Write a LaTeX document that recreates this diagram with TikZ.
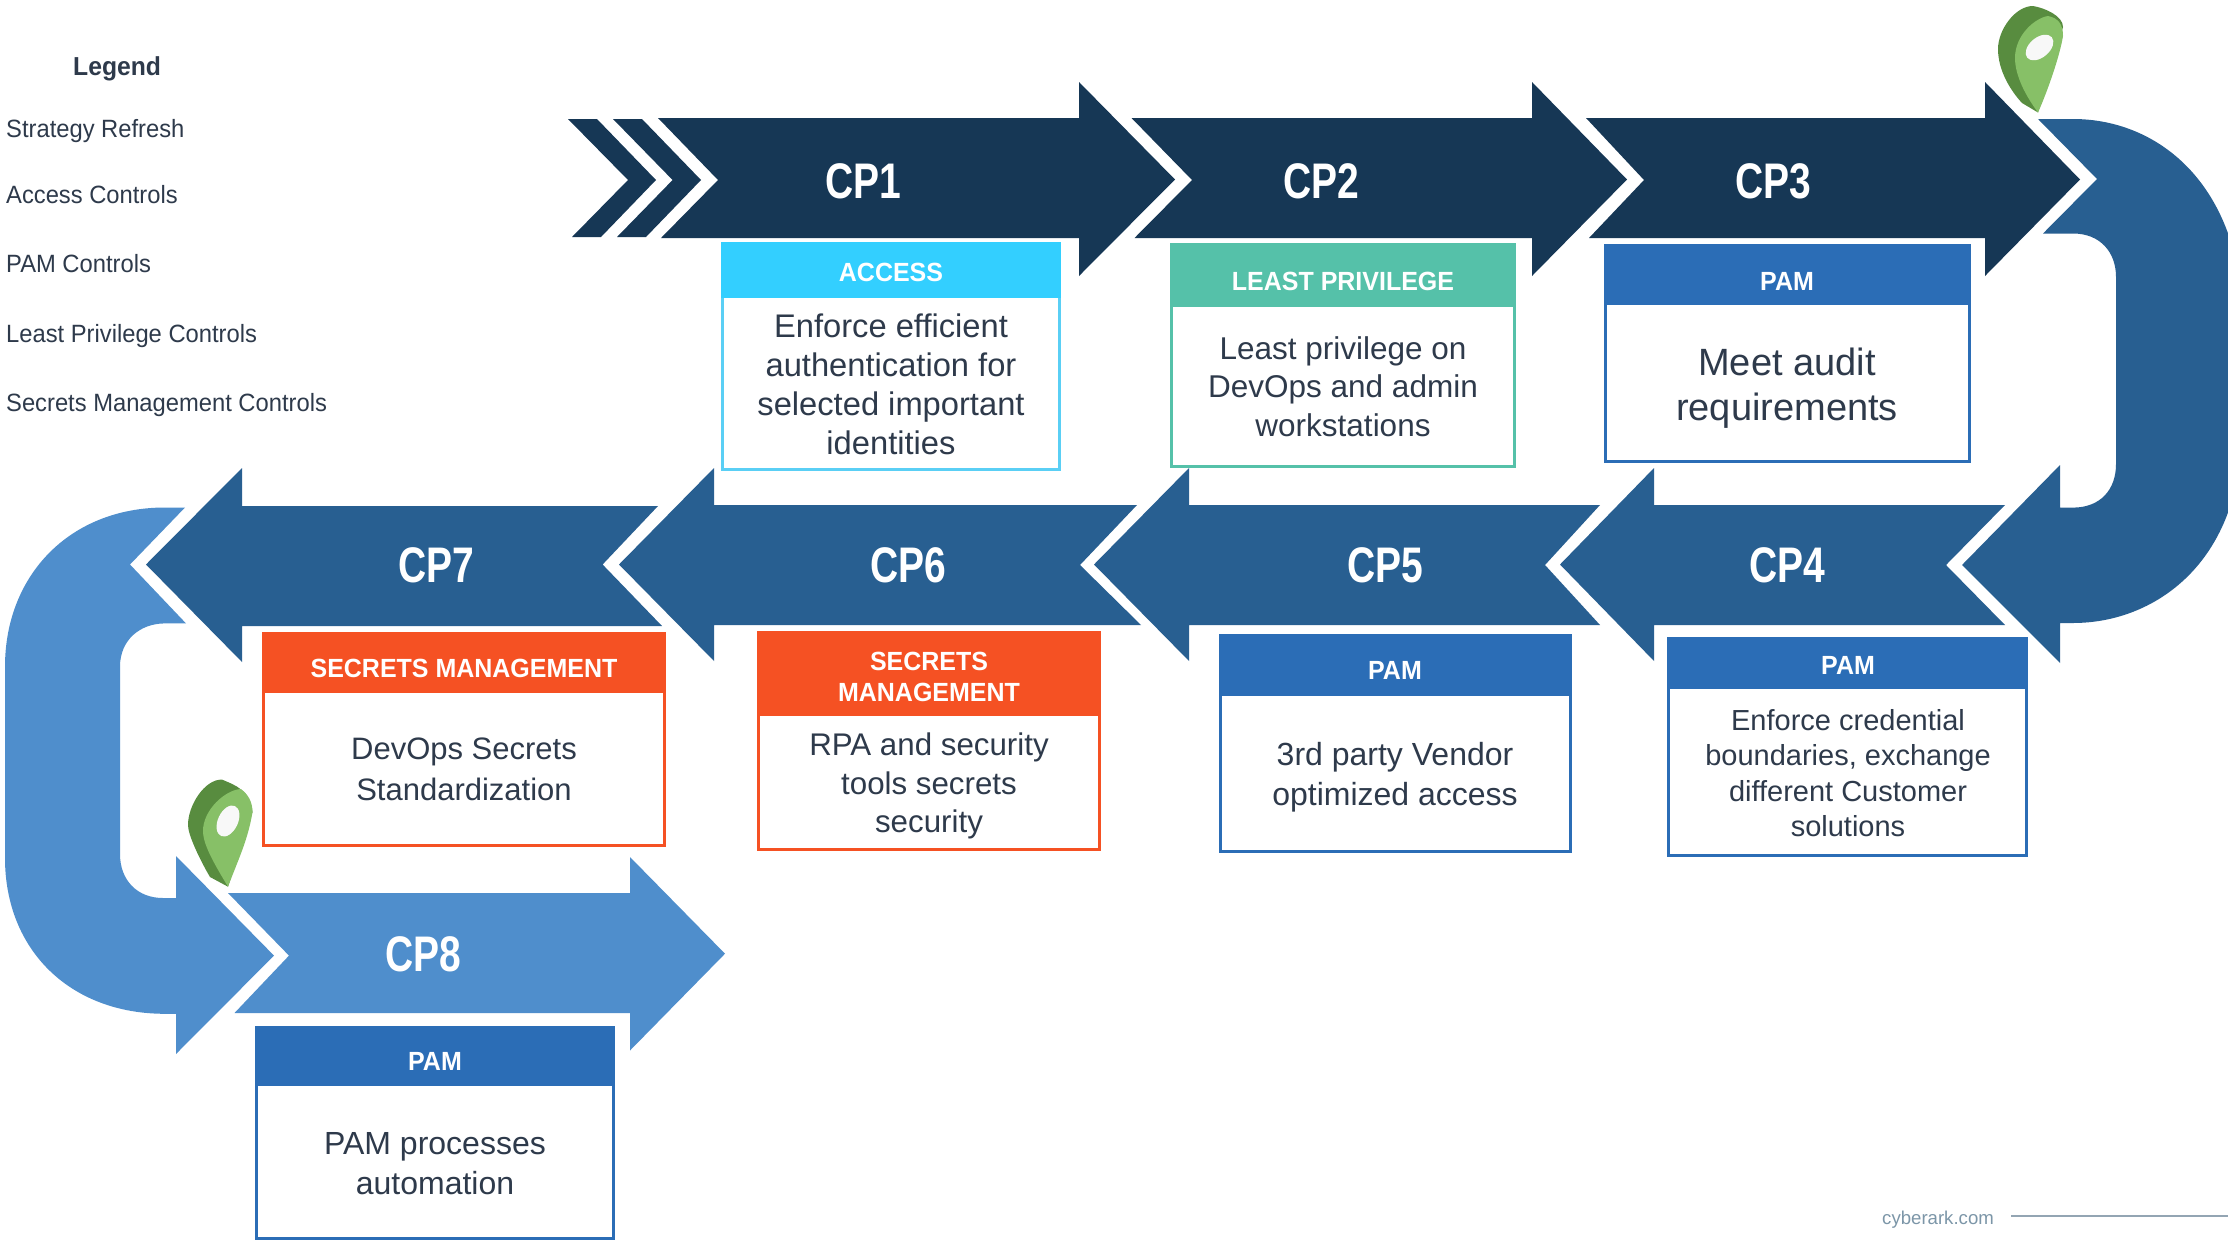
\documentclass[tikz,border=0pt]{standalone}
\usepackage{fontspec}
\setmainfont{Liberation Sans}
\newfontfamily\cpfont[FakeStretch=0.78]{Liberation Sans}
\newfontfamily\hdfont[FakeStretch=0.95]{Liberation Sans}
\newfontfamily\lgfont[FakeStretch=0.95]{Liberation Sans}
\definecolor{navy}{HTML}{163755}
\definecolor{midblue}{HTML}{285F91}
\definecolor{lightblue}{HTML}{4F8ECC}
\definecolor{pamblue}{HTML}{2B6DB6}
\definecolor{secorange}{HTML}{F55123}
\definecolor{lpgreen}{HTML}{55C1A9}
\definecolor{accesscyan}{HTML}{33CFFF}
\definecolor{accessline}{HTML}{5ACFF5}
\definecolor{bodyink}{HTML}{2E3A4B}
\definecolor{footink}{HTML}{7C96A8}
\definecolor{footline}{HTML}{93A5B3}
\definecolor{pindark}{HTML}{588C3F}
\definecolor{pinlight}{HTML}{87C067}
\definecolor{pinhole}{HTML}{F8F8F8}
\tikzset{
  cplabel/.style={text=white,inner sep=0pt,font=\fontsize{50}{50}\selectfont\cpfont\bfseries},
  hdlabel/.style={text=white,inner sep=0pt,align=center,font=\fontsize{26.3}{31}\selectfont\hdfont\bfseries},
  bodylabel/.style={text=bodyink,inner sep=0pt,align=center},
  legendlabel/.style={text=bodyink,inner sep=0pt,anchor=base west,font=\fontsize{25}{30}\selectfont\lgfont},
}
% name x1 y1 x2 y2 headerbottom fill border
\newcommand\cardbox[8]{%
  \draw[#8,line width=3pt,fill=white] (#2+1.5,#3+1.5) rectangle (#4-1.5,#5-1.5);
  \fill[#7] (#2,#3) rectangle (#4,#6);
}
\begin{document}
\begin{tikzpicture}[x=1pt,y=-1pt]
\useasboundingbox (0,0) rectangle (2228,1240);
\fill[white] (0,0) rectangle (2228,1240);
\clip (0,0) rectangle (2228,1240);

% legend
\node[legendlabel,font=\fontsize{26}{30}\selectfont\lgfont\bfseries] (lg0) at (73,75) {Legend};
\node[legendlabel] (lg1) at (6,137) {Strategy Refresh};
\node[legendlabel] (lg2) at (6,203) {Access Controls};
\node[legendlabel] (lg3) at (6,272) {PAM Controls};
\node[legendlabel] (lg4) at (6,342) {Least Privilege Controls};
\node[legendlabel] (lg5) at (6,411) {Secrets Management Controls};

% chevrons
\fill[navy] (568,119) -- (597,119) -- (656,180) -- (601,237) -- (572,237) -- (628,180) -- cycle;
\fill[navy] (613,119) -- (642,119) -- (701,180) -- (646,237) -- (617,237) -- (672.6,180) -- cycle;

% top row
\fill[navy] (658,118) -- (1079,118) -- (1079,82) -- (1175,179.5) -- (1079,276) -- (1079,238) -- (661,238) -- (718,180) -- cycle;
\fill[navy] (1131.5,118) -- (1532,118) -- (1532,82) -- (1627,179.5) -- (1532,276) -- (1532,238) -- (1134.5,238) -- (1192,180) -- cycle;
\fill[navy] (1586,118) -- (1985,118) -- (1985,82) -- (2080,179.5) -- (1985,276) -- (1985,238) -- (1589,238) -- (1644,180) -- cycle;

% right u-turn
\fill[midblue] (2038,119) -- (2073,119) .. controls (2150,119) and (2224,172) .. (2240,282)
  -- (2240,460) .. controls (2228,570) and (2150,623) .. (2073,623) -- (2060,623) -- (2060,663)
  -- (1962,565) -- (2060,465) -- (2060,507.6) -- (2073,507.6) .. controls (2100,507.6) and (2116,490) .. (2116,464)
  -- (2116,277) .. controls (2116,252) and (2100,233.5) .. (2073,233.5) -- (2043,233.5) -- (2097,179) -- cycle;

% middle row
\fill[midblue] (2005,505) -- (1654,505) -- (1654,468) -- (1560,564.5) -- (1654,661) -- (1654,625) -- (2005,625) -- (1946,565) -- cycle;
\fill[midblue] (1600,505) -- (1189,505) -- (1189,468) -- (1094,564.5) -- (1189,661) -- (1189,625) -- (1600,625) -- (1545,565) -- cycle;
\fill[midblue] (1137,505) -- (714,505) -- (714,468) -- (619,564.5) -- (714,661) -- (714,625) -- (1141,625) -- (1080,565) -- cycle;
\fill[midblue] (658,506) -- (242,506) -- (242,468) -- (146,564.5) -- (242,662) -- (242,626) -- (662,626) -- (602.6,564.5) -- cycle;

% left u-turn
\fill[lightblue] (130,564.5) -- (185,507.5) -- (165,507.5) .. controls (70,507.5) and (5,575) .. (5,666.7)
  -- (5,858) .. controls (5,950) and (70,1013.8) .. (165,1013.8) -- (176,1013.8) -- (176,1054)
  -- (274,955.6) -- (176,856) -- (176,898) -- (163,898) .. controls (137,898) and (120,880) .. (120,854)
  -- (120,666.7) .. controls (120,640) and (140,623.4) .. (165,623.4) -- (186,623.4) -- cycle;

% CP8
\fill[lightblue] (228,893) -- (630,893) -- (630,857) -- (725,953.7) -- (630,1050.5) -- (630,1013) -- (234.5,1013) -- (289,955.6) -- cycle;

% pins
\fill[pindark] (2038,112.5) -- (2022,103) .. controls (2010,90) and (1998,70) .. (1998,49)
  .. controls (1998,30) and (2015,6) .. (2033,6) .. controls (2045,8) and (2063,16) .. (2063,27) -- cycle;
\fill[pinlight] (2038,112.5) .. controls (2025,95) and (2015,75) .. (2015,58)
  .. controls (2015,35) and (2035,18) .. (2048,16) .. controls (2058,18) and (2063,24) .. (2063,36) .. controls (2060,55) and (2048,90) .. (2038,112.5) -- cycle;
\fill[pinhole,rotate around={40:(2039.5,47.5)}] (2039.5,47.5) ellipse [x radius=16,y radius=10];

\fill[pindark] (228,886.7) -- (210,877) .. controls (200,860) and (188,835) .. (188,825)
  .. controls (188,805) and (205,779) .. (222,779.6) .. controls (235,785) and (250,790) .. (252.5,812) -- cycle;
\fill[pinlight] (228,886.7) .. controls (215,865) and (203,845) .. (203,831)
  .. controls (203,810) and (225,790) .. (240.7,789) .. controls (248,794) and (252.5,802) .. (252.5,812) .. controls (248,840) and (238,860) .. (228,886.7) -- cycle;
\fill[pinhole,rotate around={65:(228,821)}] (228,821) ellipse [x radius=16.5,y radius=10];

% cards
\cardbox{a}{721}{242}{1061}{470.7}{298}{accesscyan}{accessline}
\cardbox{b}{1169.6}{243}{1516}{467.5}{306.7}{lpgreen}{lpgreen}
\cardbox{c}{1604}{243.8}{1970.7}{463.4}{305}{pamblue}{pamblue}
\cardbox{d}{1667}{636.6}{2027.7}{857}{689}{pamblue}{pamblue}
\cardbox{e}{1219}{634}{1571.6}{853}{696}{pamblue}{pamblue}
\cardbox{f}{757.4}{631}{1101}{851}{716}{secorange}{secorange}
\cardbox{g}{262}{632}{666}{846.5}{692.7}{secorange}{secorange}
\cardbox{h}{255.3}{1025.7}{615}{1240}{1086}{pamblue}{pamblue}

% arrow labels
\node[cplabel] (cp1) at (863,181) {CP1};
\node[cplabel] (cp2) at (1321,181) {CP2};
\node[cplabel] (cp3) at (1773.4,181) {CP3};
\node[cplabel] (cp4) at (1787,565.5) {CP4};
\node[cplabel] (cp5) at (1385,565.5) {CP5};
\node[cplabel] (cp6) at (908,565.5) {CP6};
\node[cplabel] (cp7) at (436,565.5) {CP7};
\node[cplabel] (cp8) at (423.5,954.5) {CP8};

% card headers
\node[hdlabel] (ha) at (891,272.5) {ACCESS};
\node[hdlabel] (hb) at (1343,281.5) {LEAST PRIVILEGE};
\node[hdlabel] (hc) at (1787,281) {PAM};
\node[hdlabel] (hd) at (1848,665.5) {PAM};
\node[hdlabel] (he) at (1395,670.5) {PAM};
\node[hdlabel] (hf) at (929,676.5) {SECRETS\\MANAGEMENT};
\node[hdlabel] (hg) at (464,668.5) {SECRETS MANAGEMENT};
\node[hdlabel] (hh) at (435,1061.5) {PAM};

% card texts
\node[bodylabel,font=\fontsize{32.7}{39}\selectfont] (ta) at (891,384) {Enforce efficient\\authentication for\\selected important\\identities};
\node[bodylabel,font=\fontsize{31.5}{38.5}\selectfont] (tb) at (1343,386.5) {Least privilege on\\DevOps and admin\\workstations};
\node[bodylabel,font=\fontsize{38}{45}\selectfont] (tc) at (1787,388) {Meet audit\\requirements};
\node[bodylabel,font=\fontsize{29}{35.5}\selectfont] (td) at (1848,773) {Enforce credential\\boundaries, exchange\\different Customer\\solutions};
\node[bodylabel,font=\fontsize{32}{40}\selectfont] (te) at (1395,777) {3rd party Vendor\\optimized access};
\node[bodylabel,font=\fontsize{31.3}{38.5}\selectfont] (tf) at (929,786) {RPA and security\\tools secrets\\security};
\node[bodylabel,font=\fontsize{31}{41}\selectfont] (tg) at (464,769.5) {DevOps Secrets\\Standardization};
\node[bodylabel,font=\fontsize{32}{40}\selectfont] (th) at (435,1164) {PAM processes\\automation};

% footer
\node[inner sep=0pt,anchor=base west,text=footink,font=\fontsize{18.6}{24}\selectfont] (ft) at (1882,1224) {cyberark.com};
\coordinate (fe) at (2228,1216);
\draw[footline,line width=2pt] (2011,1216) -- (fe);
\end{tikzpicture}
\end{document}
